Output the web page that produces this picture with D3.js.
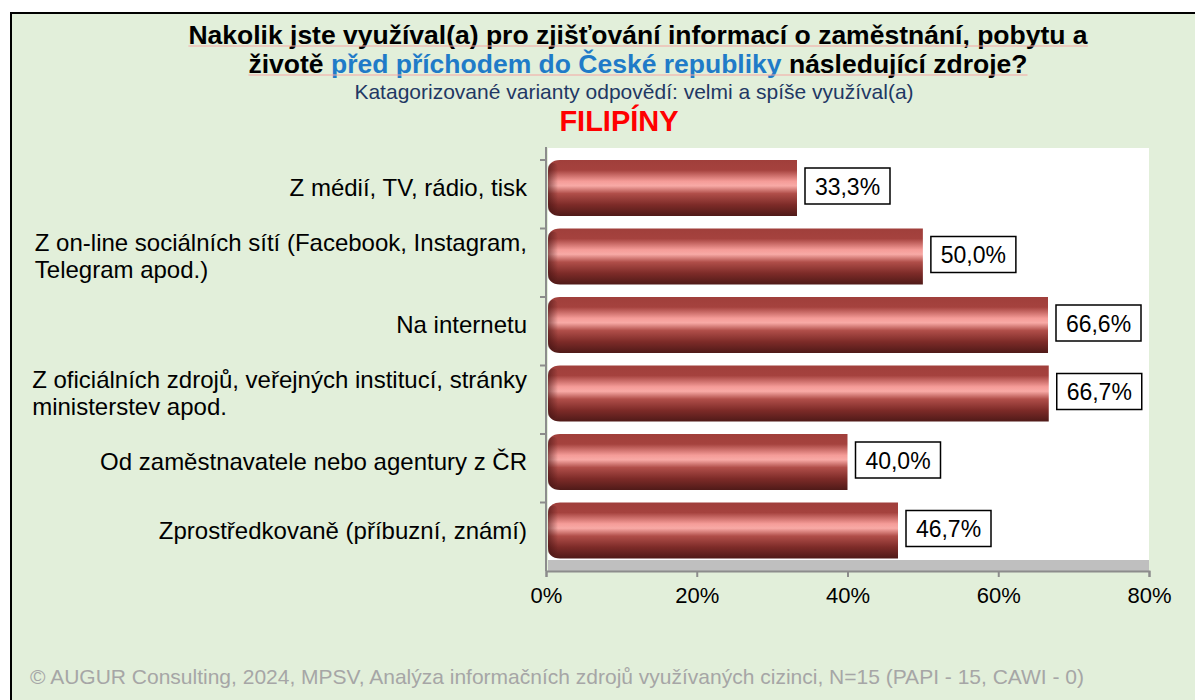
<!DOCTYPE html>
<html>
<head>
<meta charset="utf-8">
<script src="https://cdn.jsdelivr.net/npm/d3@7"></script>
<style>
  body { margin: 0; background: #fff; }
  text { font-family: "Liberation Sans", Arial, sans-serif; }
</style>
</head>
<body>
<script>
"use strict";

// data
var categories = [
    ["Z médií, TV, rádio, tisk"],
    ["Z on-line sociálních sítí (Facebook, Instagram,", "Telegram apod.)"],
    ["Na internetu"],
    ["Z oficiálních zdrojů, veřejných institucí, stránky", "ministerstev apod."],
    ["Od zaměstnavatele nebo agentury z ČR"],
    ["Zprostředkovaně (příbuzní, známí)"]
];
var values = [33.3, 50.0, 66.6, 66.7, 40.0, 46.7];
var xTicks = [0, 20, 40, 60, 80];

var width = 1195, height = 700;

var svg = d3.select("body").append("svg")
    .attr("width", width)
    .attr("height", height);

// background panel
svg.append("rect")
    .attr("x", 11).attr("y", 13)
    .attr("width", width).attr("height", height)
    .attr("fill", "#e2efda")
    .attr("stroke", "#000")
    .attr("stroke-width", 2);

// gradient for the cylinder look
var defs = svg.append("defs");
var grad = defs.append("linearGradient")
    .attr("id", "barGrad")
    .attr("x1", 0).attr("y1", 0).attr("x2", 0).attr("y2", 1);
[[0, "#a03f3b"], [0.18, "#a5423e"], [0.38, "#f59c98"], [0.46, "#f8aaa6"], [0.6, "#b04e49"],
 [0.8, "#7d2b28"], [1, "#4f1a18"]].forEach(function (s) {
    grad.append("stop").attr("offset", s[0]).attr("stop-color", s[1]);
});
var capGrad = defs.append("linearGradient")
    .attr("id", "capGrad")
    .attr("x1", 0).attr("y1", 0).attr("x2", 1).attr("y2", 0);
capGrad.append("stop").attr("offset", 0).attr("stop-color", "#3d1010").attr("stop-opacity", 0.55);
capGrad.append("stop").attr("offset", 1).attr("stop-color", "#3d1010").attr("stop-opacity", 0);

// scales
var x = d3.scaleLinear().domain([0, 80]).range([546, 1149]);
var y = d3.scaleBand().domain(d3.range(categories.length)).range([160, 571]).paddingInner(0).paddingOuter(0);
var barH = 56;

// plot area
svg.append("rect")
    .attr("x", 548).attr("y", 148)
    .attr("width", 1149 - 548).attr("height", 560 - 148)
    .attr("fill", "#fff");
svg.append("rect")
    .attr("x", 548).attr("y", 560)
    .attr("width", 1149 - 548).attr("height", 11)
    .attr("fill", "#bfbfbf");

// titles
var title = svg.append("text")
    .attr("x", 638).attr("y", 44)
    .attr("text-anchor", "middle")
    .style("font-size", "26.5px").style("font-weight", "bold");
title.append("tspan").text("Nakolik jste využíval(a) pro zjišťování informací o zaměstnání, pobytu a");

var title2 = svg.append("text")
    .attr("x", 638).attr("y", 73)
    .attr("text-anchor", "middle")
    .style("font-size", "26.5px").style("font-weight", "bold");
title2.append("tspan").text("životě ");
title2.append("tspan").attr("fill", "#1f7bc8").text("před příchodem do České republiky");
title2.append("tspan").text(" následující zdroje?");

// spellcheck-like underlines
[[title, 46], [title2, 75]].forEach(function (t) {
    var bb = t[0].node().getBBox();
    svg.append("line")
        .attr("x1", bb.x).attr("x2", bb.x + bb.width)
        .attr("y1", t[1]).attr("y2", t[1])
        .attr("stroke", "#f4a6a3").attr("stroke-width", 1);
});

svg.append("text")
    .attr("x", 634).attr("y", 99)
    .attr("text-anchor", "middle")
    .attr("fill", "#1f3864")
    .style("font-size", "21px")
    .text("Katagorizované varianty odpovědí: velmi a spíše využíval(a)");

svg.append("text")
    .attr("x", 619).attr("y", 131)
    .attr("text-anchor", "middle")
    .attr("fill", "#ff0000")
    .style("font-size", "29px").style("font-weight", "bold")
    .text("FILIPÍNY");

// bars
var bars = svg.append("g").attr("class", "bars");
bars.selectAll("path")
    .data(values)
    .enter().append("path")
    .attr("fill", "url(#barGrad)")
    .attr("d", function (d, i) {
        var x0 = x(0) + 2, x1 = x(d), y0 = y(i), r = 12;
        return "M" + x1 + "," + y0 +
            "H" + (x0 + r) +
            "Q" + x0 + "," + y0 + " " + x0 + "," + (y0 + r) +
            "V" + (y0 + barH - r) +
            "Q" + x0 + "," + (y0 + barH) + " " + (x0 + r) + "," + (y0 + barH) +
            "H" + x1 + "Z";
    });
bars.selectAll("rect.cap")
    .data(values)
    .enter().append("rect")
    .attr("class", "cap")
    .attr("x", x(0) + 2)
    .attr("y", function (d, i) { return y(i) + 3; })
    .attr("width", 10)
    .attr("height", barH - 6)
    .attr("rx", 5)
    .attr("fill", "url(#capGrad)");

// value labels
var labels = svg.append("g").attr("class", "labels")
    .selectAll("g")
    .data(values)
    .enter().append("g")
    .attr("transform", function (d, i) {
        return "translate(" + (x(d) + 8) + "," + (y(i) + barH / 2 - 2) + ")";
    });
labels.append("rect")
    .attr("x", 0).attr("y", -18)
    .attr("width", 85).attr("height", 36)
    .attr("fill", "#fff")
    .attr("stroke", "#000").attr("stroke-width", 1.5);
labels.append("text")
    .attr("x", 42.5).attr("y", 8.5)
    .attr("text-anchor", "middle")
    .style("font-size", "23px")
    .text(function (d) { return d3.format(".1f")(d).replace(".", ",") + "%"; });

// category labels, block right aligned, lines left aligned
var cat = svg.append("g").attr("class", "cats")
    .selectAll("text")
    .data(categories)
    .enter().append("text")
    .style("font-size", "24px")
    .attr("fill", "#000");
cat.each(function (lines, i) {
    var t = d3.select(this);
    var lh = 27;
    var cy = y(i) + barH / 2;
    lines.forEach(function (l, j) {
        t.append("tspan")
            .attr("y", cy - (lines.length - 1) * lh / 2 + j * lh + 8)
            .text(l);
    });
    var w = 0;
    t.selectAll("tspan").each(function () { w = Math.max(w, this.getComputedTextLength()); });
    t.selectAll("tspan").attr("x", 527 - w);
});

// y axis
var yAxis = svg.append("g").attr("class", "y-axis");
yAxis.append("line")
    .attr("x1", 546).attr("x2", 546)
    .attr("y1", 147).attr("y2", 571)
    .attr("stroke", "#8c8c8c").attr("stroke-width", 2);
yAxis.selectAll("line.tick")
    .data(d3.range(categories.length))
    .enter().append("line")
    .attr("class", "tick")
    .attr("x1", 540).attr("x2", 546)
    .attr("y1", function (d) { return y(d); })
    .attr("y2", function (d) { return y(d); })
    .attr("stroke", "#8c8c8c").attr("stroke-width", 2);

// x axis
var xAxis = svg.append("g")
    .attr("transform", "translate(0,571)")
    .call(d3.axisBottom(x).tickValues(xTicks).tickSize(6).tickPadding(10)
        .tickFormat(function (d) { return d + "%"; }));
xAxis.select(".domain").attr("stroke", "#8c8c8c").attr("stroke-width", 2);
xAxis.selectAll(".tick line").attr("stroke", "#8c8c8c").attr("stroke-width", 2);
xAxis.selectAll(".tick text")
    .style("font-size", "22px")
    .style("font-family", "'Liberation Sans', Arial, sans-serif")
    .attr("fill", "#000");

// footer
svg.append("text")
    .attr("x", 30).attr("y", 684)
    .attr("fill", "#a6a6a6")
    .style("font-size", "21px")
    .text("© AUGUR Consulting, 2024, MPSV, Analýza informačních zdrojů využívaných cizinci, N=15 (PAPI - 15, CAWI - 0)");
</script>
</body>
</html>
